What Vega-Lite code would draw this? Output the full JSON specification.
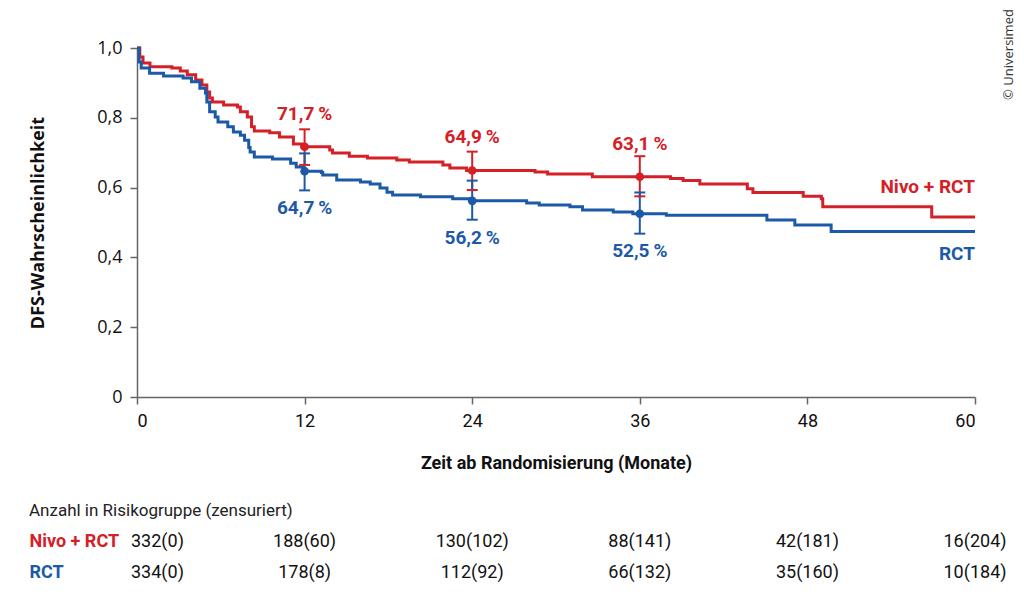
{
  "$schema": "https://vega.github.io/schema/vega-lite/v6.json",
  "padding": {"left": 29, "top": 8, "right": 5, "bottom": 5},
  "autosize": {"type": "pad"},
  "background": "white",
  "config": {"view": {"stroke": null}, "axis": {"grid": false}},
  "datasets": {
    "curves": [
      {"group": "Nivo + RCT", "t": 0, "s": 1.0},
      {"group": "Nivo + RCT", "t": 0.2, "s": 0.974},
      {"group": "Nivo + RCT", "t": 0.43, "s": 0.957},
      {"group": "Nivo + RCT", "t": 0.93, "s": 0.946},
      {"group": "Nivo + RCT", "t": 2.5, "s": 0.943},
      {"group": "Nivo + RCT", "t": 3.1, "s": 0.934},
      {"group": "Nivo + RCT", "t": 3.6, "s": 0.923},
      {"group": "Nivo + RCT", "t": 4.2, "s": 0.908},
      {"group": "Nivo + RCT", "t": 4.65, "s": 0.894},
      {"group": "Nivo + RCT", "t": 5.0, "s": 0.874},
      {"group": "Nivo + RCT", "t": 5.2, "s": 0.857},
      {"group": "Nivo + RCT", "t": 5.4, "s": 0.845},
      {"group": "Nivo + RCT", "t": 6.2, "s": 0.837},
      {"group": "Nivo + RCT", "t": 7.2, "s": 0.831},
      {"group": "Nivo + RCT", "t": 7.4, "s": 0.817},
      {"group": "Nivo + RCT", "t": 7.9, "s": 0.802},
      {"group": "Nivo + RCT", "t": 8.2, "s": 0.774},
      {"group": "Nivo + RCT", "t": 8.4, "s": 0.762},
      {"group": "Nivo + RCT", "t": 9.5, "s": 0.757},
      {"group": "Nivo + RCT", "t": 10.2, "s": 0.745},
      {"group": "Nivo + RCT", "t": 11.2, "s": 0.725},
      {"group": "Nivo + RCT", "t": 11.8, "s": 0.717},
      {"group": "Nivo + RCT", "t": 13.8, "s": 0.708},
      {"group": "Nivo + RCT", "t": 14.0, "s": 0.699},
      {"group": "Nivo + RCT", "t": 15.2, "s": 0.69},
      {"group": "Nivo + RCT", "t": 16.5, "s": 0.685},
      {"group": "Nivo + RCT", "t": 18.6, "s": 0.679},
      {"group": "Nivo + RCT", "t": 19.5, "s": 0.673},
      {"group": "Nivo + RCT", "t": 21.9, "s": 0.665},
      {"group": "Nivo + RCT", "t": 22.4, "s": 0.656},
      {"group": "Nivo + RCT", "t": 23.6, "s": 0.649},
      {"group": "Nivo + RCT", "t": 28.5, "s": 0.645},
      {"group": "Nivo + RCT", "t": 29.4, "s": 0.639},
      {"group": "Nivo + RCT", "t": 32.6, "s": 0.631},
      {"group": "Nivo + RCT", "t": 38.2, "s": 0.626},
      {"group": "Nivo + RCT", "t": 39.1, "s": 0.62},
      {"group": "Nivo + RCT", "t": 40.3, "s": 0.61},
      {"group": "Nivo + RCT", "t": 43.7, "s": 0.597},
      {"group": "Nivo + RCT", "t": 44.1, "s": 0.586},
      {"group": "Nivo + RCT", "t": 47.7, "s": 0.575},
      {"group": "Nivo + RCT", "t": 49.0, "s": 0.568},
      {"group": "Nivo + RCT", "t": 49.1, "s": 0.545},
      {"group": "Nivo + RCT", "t": 56.9, "s": 0.516},
      {"group": "Nivo + RCT", "t": 60, "s": 0.516},
      {"group": "RCT", "t": 0, "s": 1.0},
      {"group": "RCT", "t": 0.15, "s": 0.96},
      {"group": "RCT", "t": 0.3, "s": 0.943},
      {"group": "RCT", "t": 0.9, "s": 0.928},
      {"group": "RCT", "t": 1.9, "s": 0.92},
      {"group": "RCT", "t": 3.3, "s": 0.914},
      {"group": "RCT", "t": 3.9, "s": 0.903},
      {"group": "RCT", "t": 4.5, "s": 0.885},
      {"group": "RCT", "t": 4.9, "s": 0.871},
      {"group": "RCT", "t": 5.0, "s": 0.845},
      {"group": "RCT", "t": 5.2, "s": 0.817},
      {"group": "RCT", "t": 5.6, "s": 0.802},
      {"group": "RCT", "t": 5.8, "s": 0.788},
      {"group": "RCT", "t": 6.5, "s": 0.774},
      {"group": "RCT", "t": 6.9, "s": 0.759},
      {"group": "RCT", "t": 7.4, "s": 0.75},
      {"group": "RCT", "t": 7.7, "s": 0.736},
      {"group": "RCT", "t": 8.0, "s": 0.715},
      {"group": "RCT", "t": 8.1, "s": 0.702},
      {"group": "RCT", "t": 8.4, "s": 0.688},
      {"group": "RCT", "t": 9.7, "s": 0.682},
      {"group": "RCT", "t": 11.0, "s": 0.67},
      {"group": "RCT", "t": 11.4, "s": 0.659},
      {"group": "RCT", "t": 11.9, "s": 0.647},
      {"group": "RCT", "t": 13.2, "s": 0.643},
      {"group": "RCT", "t": 13.3, "s": 0.636},
      {"group": "RCT", "t": 14.3, "s": 0.622},
      {"group": "RCT", "t": 16.0, "s": 0.616},
      {"group": "RCT", "t": 16.7, "s": 0.61},
      {"group": "RCT", "t": 17.4, "s": 0.599},
      {"group": "RCT", "t": 17.9, "s": 0.587},
      {"group": "RCT", "t": 18.3, "s": 0.579},
      {"group": "RCT", "t": 20.3, "s": 0.574},
      {"group": "RCT", "t": 22.6, "s": 0.568},
      {"group": "RCT", "t": 23.8, "s": 0.562},
      {"group": "RCT", "t": 27.9, "s": 0.556},
      {"group": "RCT", "t": 28.8, "s": 0.55},
      {"group": "RCT", "t": 31.0, "s": 0.545},
      {"group": "RCT", "t": 31.9, "s": 0.536},
      {"group": "RCT", "t": 34.1, "s": 0.53},
      {"group": "RCT", "t": 35.5, "s": 0.525},
      {"group": "RCT", "t": 37.9, "s": 0.521},
      {"group": "RCT", "t": 45.1, "s": 0.507},
      {"group": "RCT", "t": 47.1, "s": 0.493},
      {"group": "RCT", "t": 49.7, "s": 0.474},
      {"group": "RCT", "t": 60, "s": 0.474}
    ],
    "marks": [
      {"group": "Nivo + RCT", "t": 12, "s": 0.717, "lo": 0.665, "hi": 0.767, "label": "71,7\u2009%"},
      {"group": "RCT", "t": 12, "s": 0.647, "lo": 0.592, "hi": 0.698, "label": "64,7\u2009%"},
      {"group": "Nivo + RCT", "t": 24, "s": 0.649, "lo": 0.593, "hi": 0.703, "label": "64,9\u2009%"},
      {"group": "RCT", "t": 24, "s": 0.562, "lo": 0.508, "hi": 0.62, "label": "56,2\u2009%"},
      {"group": "Nivo + RCT", "t": 36, "s": 0.631, "lo": 0.575, "hi": 0.69, "label": "63,1\u2009%"},
      {"group": "RCT", "t": 36, "s": 0.525, "lo": 0.468, "hi": 0.586, "label": "52,5\u2009%"}
    ],
    "risk": [
      {"group": "Nivo + RCT", "t": 0, "n": "332(0)"},
      {"group": "Nivo + RCT", "t": 12, "n": "188(60)"},
      {"group": "Nivo + RCT", "t": 24, "n": "130(102)"},
      {"group": "Nivo + RCT", "t": 36, "n": "88(141)"},
      {"group": "Nivo + RCT", "t": 48, "n": "42(181)"},
      {"group": "Nivo + RCT", "t": 60, "n": "16(204)"},
      {"group": "RCT", "t": 0, "n": "334(0)"},
      {"group": "RCT", "t": 12, "n": "178(8)"},
      {"group": "RCT", "t": 24, "n": "112(92)"},
      {"group": "RCT", "t": 36, "n": "66(132)"},
      {"group": "RCT", "t": 48, "n": "35(160)"},
      {"group": "RCT", "t": 60, "n": "10(184)"}
    ]
  },
  "spacing": 30,
  "vconcat": [
    {
      "width": 838,
      "height": 349,
      "resolve": {"axis": {"y": "independent"}},
      "encoding": {
        "x": {"field": "t", "type": "quantitative", "scale": {"domain": [0, 60]},
          "axis": {"values": [0, 12, 24, 36, 48, 60], "title": "Zeit ab Randomisierung (Monate)",
            "labelFont": "Roboto", "labelFontSize": 18, "labelColor": "#111",
            "titleFont": "Roboto", "titleFontSize": 18, "titleFontWeight": "bold", "titleColor": "#111",
            "domainColor": "#666", "tickColor": "#666", "domainWidth": 1.5, "tickWidth": 1.5, "tickSize": 7, "labelPadding": 8, "titlePadding": 24}},
        "color": {"field": "group", "type": "nominal", "scale": {"domain": ["Nivo + RCT", "RCT"], "range": ["#d42027", "#1c5aa8"]}, "legend": null}
      },
      "layer": [
        {
          "data": {"name": "curves"},
          "mark": {"type": "line", "interpolate": "step-after", "strokeWidth": 3},
          "encoding": {
            "y": {"field": "s", "type": "quantitative", "scale": {"domain": [0, 1]},
              "axis": {"values": [0, 0.2, 0.4, 0.6, 0.8, 1], "labelExpr": "datum.value == 0 ? '0' : replace(format(datum.value, '.1f'), '.', ',')",
                "title": "DFS-Wahrscheinlichkeit", "labelFont": "Open Sans", "labelFontSize": 18, "labelColor": "#111",
                "titleFont": "Open Sans", "titleFontSize": 18, "titleFontWeight": "bold", "titleColor": "#111", "titlePadding": 49,
                "domainColor": "#666", "tickColor": "#666", "domainWidth": 1.5, "tickWidth": 1.5, "tickSize": 7, "labelPadding": 8}}
          }
        },
        {
          "data": {"name": "marks"},
          "mark": {"type": "rule", "strokeWidth": 2},
          "encoding": {"y": {"field": "lo", "type": "quantitative",
            "axis": {"orient": "right", "title": "© Universimed", "labels": false, "ticks": false, "domain": false,
              "titleAngle": -90, "titleX": 33, "titleY": 6, "titleAlign": "center", "titleBaseline": "middle",
              "titleFont": "Open Sans", "titleFontSize": 13, "titleFontWeight": "normal", "titleColor": "#333"}},
            "y2": {"field": "hi"}}
        },
        {
          "data": {"name": "marks"},
          "mark": {"type": "tick", "orient": "horizontal", "size": 11, "thickness": 2, "opacity": 1},
          "encoding": {"y": {"field": "lo", "type": "quantitative", "axis": null}}
        },
        {
          "data": {"name": "marks"},
          "mark": {"type": "tick", "orient": "horizontal", "size": 11, "thickness": 2, "opacity": 1},
          "encoding": {"y": {"field": "hi", "type": "quantitative", "axis": null}}
        },
        {
          "data": {"name": "marks"},
          "mark": {"type": "circle", "size": 75, "opacity": 1},
          "encoding": {"y": {"field": "s", "type": "quantitative", "axis": null}}
        },
        {
          "data": {"name": "marks"},
          "transform": [{"filter": "datum.group != 'RCT'"}],
          "mark": {"type": "text", "dy": -33, "baseline": "middle", "font": "Roboto", "fontSize": 19, "fontWeight": "bold"},
          "encoding": {"y": {"field": "s", "type": "quantitative", "axis": null}, "text": {"field": "label"}}
        },
        {
          "data": {"name": "marks"},
          "transform": [{"filter": "datum.group == 'RCT'"}],
          "mark": {"type": "text", "dy": 37, "baseline": "middle", "font": "Roboto", "fontSize": 19, "fontWeight": "bold"},
          "encoding": {"y": {"field": "s", "type": "quantitative", "axis": null}, "text": {"field": "label"}}
        },
        {
          "data": {"name": "curves"},
          "transform": [{"filter": "datum.t == 60 && datum.group != 'RCT'"}],
          "mark": {"type": "text", "dy": -30, "align": "right", "baseline": "middle", "font": "Roboto", "fontSize": 19, "fontWeight": "bold"},
          "encoding": {"y": {"field": "s", "type": "quantitative", "axis": null}, "text": {"field": "group"}}
        },
        {
          "data": {"name": "curves"},
          "transform": [{"filter": "datum.t == 60 && datum.group == 'RCT'"}],
          "mark": {"type": "text", "dy": 22, "align": "right", "baseline": "middle", "font": "Roboto", "fontSize": 19, "fontWeight": "bold"},
          "encoding": {"y": {"field": "s", "type": "quantitative", "axis": null}, "text": {"field": "group"}}
        }
      ]
    },
    {
      "width": 838,
      "height": 62,
      "data": {"name": "risk"},
      "title": {"text": "Anzahl in Risikogruppe (zensuriert)", "anchor": "start", "frame": "bounds", "font": "Roboto", "fontSize": 17, "fontWeight": "normal", "color": "#222", "offset": 6},
      "encoding": {
        "y": {"field": "group", "type": "nominal", "sort": ["Nivo + RCT", "RCT"],
          "axis": {"title": null, "domain": false, "ticks": false, "tickSize": 0, "labelAlign": "left", "labelPadding": 108,
            "labelFont": "Roboto", "labelFontSize": 18, "labelFontWeight": "bold",
            "labelColor": {"condition": {"test": "datum.value == 'RCT'", "value": "#1c5aa8"}, "value": "#d42027"}}},
        "x": {"field": "t", "type": "quantitative", "scale": {"domain": [0, 60]}, "axis": null},
        "text": {"field": "n"}
      },
      "layer": [
        {
          "transform": [{"filter": "datum.t == 0"}],
          "mark": {"type": "text", "align": "left", "dx": -6, "baseline": "middle", "font": "Roboto", "fontSize": 18, "color": "#111"}
        },
        {
          "transform": [{"filter": "datum.t > 0"}],
          "mark": {"type": "text", "align": "center", "baseline": "middle", "font": "Roboto", "fontSize": 18, "color": "#111"}
        }
      ]
    }
  ]
}
